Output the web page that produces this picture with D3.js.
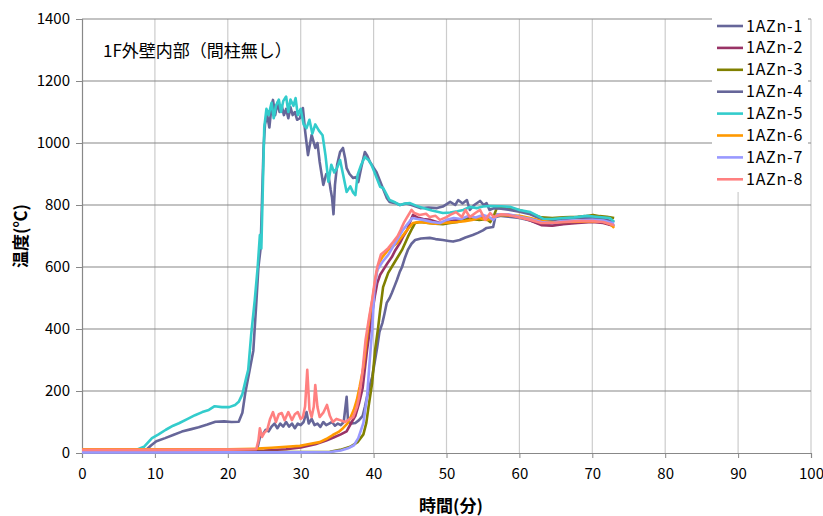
<!DOCTYPE html>
<html>
<head>
<meta charset="utf-8">
<script src="https://cdn.jsdelivr.net/npm/d3@7"></script>
<style>
body { margin: 0; background: #fff; }
text { font-family: "Noto Sans CJK JP", "DejaVu Sans", sans-serif; }
</style>
</head>
<body>
<div id="chart"></div>
<script>
"use strict"
var width = 823,
	height = 516;

// tick values
var xTicks = [0,10,20,30,40,50,60,70,80,90,100];
var yTicks = [0,200,400,600,800,1000,1200,1400];

var seriesNames = ["1AZn-1","1AZn-2","1AZn-3","1AZn-4","1AZn-5","1AZn-6","1AZn-7","1AZn-8"];
var seriesColors = ["#666699","#993366","#808000","#666699","#33cccc","#ff9900","#9999ff","#ff8080"];

// [time (min), temperature (C)]
var s1 = [[0,8],[10,8],[20,9],[24,10],[24.4,50],[24.8,60],[25.2,75],[25.6,70],[26,85],[26.4,95],[26.8,80],[27.2,95],[27.6,85],[28,100],[28.4,85],[28.8,95],[29.2,80],[29.6,95],[30,90],[30.4,100],[30.8,132],[31.1,95],[31.5,110],[31.9,90],[32.3,95],[32.7,84],[33.1,100],[33.5,90],[33.9,95],[34.3,100],[34.7,88],[35.1,95],[35.5,90],[35.9,100],[36.3,181],[36.5,100],[37,95],[37.5,97],[38,106],[38.5,120],[38.8,148],[39.1,181],[39.5,220],[39.8,245],[40.2,300],[40.5,342],[40.8,390],[41.2,419],[41.5,450],[41.8,484],[42.2,500],[42.5,516],[42.9,540],[43.2,558],[43.6,585],[43.9,600],[44.3,630],[44.7,655],[45.2,675],[45.7,687],[46.5,692],[47.7,694],[48.5,690],[49.5,687],[50.3,684],[50.9,682],[51.8,687],[52.6,695],[53.6,703],[54.3,710],[55,718],[55.5,726],[56.4,729],[56.7,761],[57.5,765],[58.5,762],[60,758],[61.5,750],[63,738],[64.5,735],[66,740],[68,745],[70,748],[71.5,745],[73,732]];
var s2 = [[0,6],[10,6],[20,6],[25,8],[28,12],[30,18],[32,28],[33.5,40],[34.5,50],[35.5,60],[36.3,70],[37,100],[37.5,120],[38,160],[38.5,210],[39.1,332],[39.5,400],[39.8,452],[40.2,510],[40.5,548],[40.9,575],[41.3,590],[41.9,612],[42.5,632],[43,655],[43.6,677],[44.1,700],[44.6,719],[45,745],[45.4,768],[46,760],[46.8,755],[47.8,752],[49.1,742],[50,745],[51,750],[52,752],[53,760],[54,755],[55,762],[56,750],[57,770],[58,768],[60,762],[61.5,750],[63,735],[64.5,733],[66,738],[68,742],[70,745],[71.5,742],[73,732]];
var s3 = [[0,4],[10,3],[20,3],[30,3],[34,4],[35.4,10],[36.8,20],[37.8,35],[38.6,60],[39,97],[39.3,148],[39.8,226],[40.2,332],[40.6,400],[40.9,461],[41.3,535],[42,581],[42.9,616],[43.9,655],[44.7,697],[45.3,725],[45.7,742],[46.4,745],[47.5,742],[48.5,740],[49.5,738],[50.5,742],[51.5,745],[52.5,752],[53.5,755],[54.5,752],[55.5,755],[56,745],[56.4,760],[56.9,790],[57.5,792],[58.5,788],[60,784],[61.5,772],[63,760],[64.5,758],[66,760],[68,762],[69,764],[70.1,768],[71,764],[72,762],[73,758]];
var s4 = [[0,7],[5,7],[8.5,8],[8.9,12],[9.5,25],[10.2,38],[11.4,48],[12.5,58],[13.7,69],[15,77],[16,83],[17.2,92],[18.3,101],[19.5,102],[20.5,100],[21.5,101],[22,130],[22.4,194],[23,268],[23.5,330],[23.9,480],[24.2,600],[24.5,660],[24.7,820],[24.9,980],[25.1,1060],[25.4,1090],[25.7,1050],[26,1120],[26.2,1139],[26.5,1090],[26.8,1130],[27.1,1100],[27.4,1120],[27.7,1090],[28,1110],[28.3,1080],[28.6,1115],[28.9,1090],[29.2,1100],[29.5,1075],[29.9,1080],[30.3,1113],[30.6,1040],[31,961],[31.5,1026],[32,984],[32.3,1000],[32.6,939],[33.1,865],[33.5,900],[33.8,897],[34.1,850],[34.3,823],[34.5,770],[34.7,865],[35,930],[35.4,971],[35.8,984],[36.1,950],[36.3,919],[36.7,900],[37.2,887],[37.6,890],[37.9,874],[38.3,920],[38.8,971],[39.1,960],[39.5,939],[40,920],[40.4,906],[41,870],[41.8,823],[42.2,810],[43,806],[43.6,800],[44.5,805],[45.2,800],[46.4,790],[47.5,792],[48.7,790],[49.5,795],[50.5,810],[51.2,800],[51.6,816],[52.2,805],[52.8,816],[53.2,784],[53.8,800],[54.6,813],[55.1,800],[55.5,806],[55.9,784],[56.5,790],[57.5,788],[58.5,785],[60,778],[61.5,770],[63,755],[64.5,752],[66,755],[68,758],[70,758],[71.5,755],[73,745]];
var s5 = [[0,10],[5,10],[7.5,11],[8.5,20],[9.6,48],[10.5,60],[11.5,75],[12.5,88],[13.3,96],[14.5,110],[15.5,122],[16.5,132],[17.4,139],[18.2,151],[19.2,148],[20.2,148],[21,155],[21.5,165],[22,190],[22.5,240],[22.8,268],[23.2,380],[23.7,494],[24.1,600],[24.4,703],[24.6,660],[24.8,850],[25,1050],[25.3,1110],[25.6,1090],[26,1130],[26.3,1080],[26.6,1120],[27,1140],[27.3,1100],[27.6,1135],[28,1150],[28.3,1100],[28.6,1140],[29,1120],[29.3,1145],[29.6,1090],[30,1110],[30.4,1060],[30.8,1048],[31.2,1075],[31.6,1030],[32,1060],[32.5,1040],[33,1025],[33.4,960],[33.8,875],[34.2,930],[34.6,905],[35,920],[35.4,945],[35.8,900],[36.3,842],[36.8,860],[37.2,840],[37.5,832],[37.8,897],[38.3,930],[38.8,955],[39.3,945],[39.7,930],[40,913],[40.9,859],[41.3,855],[42.2,816],[43,808],[43.6,800],[44.3,805],[45,806],[45.8,798],[46.8,790],[48,782],[49.5,774],[50.5,776],[51.5,780],[52.3,784],[53.2,794],[54.2,790],[55,795],[56,797],[57.5,796],[58.7,794],[60,784],[61.5,777],[62.5,765],[63.3,755],[64.5,755],[66,758],[67.5,760],[69.3,765],[70.5,762],[72.4,758],[73,745]];
var s6 = [[0,12],[10,12],[20,12],[24,14],[26,17],[28,20],[29.9,23],[31,28],[32.6,35],[33.5,45],[34.4,58],[35.2,68],[35.8,80],[36.4,95],[36.8,113],[37.3,140],[37.7,171],[38.1,215],[38.6,277],[39.2,397],[39.6,460],[39.9,503],[40.4,581],[40.8,615],[41.2,632],[42,655],[42.6,666],[43.2,677],[43.8,695],[44.3,710],[44.9,728],[45.4,742],[46.3,745],[47.5,742],[48.5,740],[49.5,742],[50.5,744],[51.5,745],[52.5,748],[53.5,752],[54.5,758],[55.5,752],[56.2,755],[56.9,768],[58,767],[60,765],[61.5,758],[63,748],[64.5,744],[66,745],[68,746],[70,748],[71.5,746],[72.5,738],[73,726]];
var s7 = [[0,2],[10,2],[20,2],[30,2],[34,3],[35.5,8],[36.5,15],[37.3,25],[37.9,48],[38.6,97],[39.1,181],[39.4,277],[39.8,397],[40.1,526],[40.5,590],[41.2,616],[42,639],[43.2,687],[44,719],[44.7,740],[45.3,758],[46,755],[46.8,752],[48,745],[49.1,742],[50,752],[51,758],[52,755],[53,765],[54,760],[55,768],[55.8,762],[56.4,752],[57,770],[58.5,770],[60,762],[61.5,755],[63,745],[64.5,742],[66,748],[68,750],[70,752],[71.5,750],[73,740]];
var s8 = [[0,10],[10,10],[20,11],[23.9,12],[24.2,40],[24.4,80],[24.7,52],[25,65],[25.4,74],[25.8,110],[26.2,132],[26.6,100],[27,125],[27.4,129],[27.8,106],[28.3,132],[28.8,106],[29.2,125],[29.6,132],[30,110],[30.3,116],[30.6,150],[30.9,268],[31.2,140],[31.5,116],[31.8,150],[32,219],[32.3,148],[32.6,116],[33.1,130],[33.6,155],[34,120],[34.4,100],[34.9,110],[35.4,106],[36.1,100],[36.6,108],[37.2,116],[37.7,148],[38,180],[38.4,245],[38.9,365],[39.4,440],[39.8,494],[40.2,560],[40.5,600],[41,640],[41.5,650],[42,661],[42.7,681],[43.3,700],[43.7,719],[44.2,745],[44.6,761],[45.2,784],[45.6,774],[46.3,768],[47.2,772],[47.7,761],[48.5,765],[49.1,752],[50,761],[50.5,768],[51.3,777],[52.1,761],[52.6,784],[53.2,761],[54,775],[54.6,784],[55.3,752],[56,774],[56.5,761],[57.5,770],[58.5,768],[60,760],[61.5,752],[63,742],[64.5,742],[66,745],[68,748],[70,748],[71.5,745],[73,735]];

var seriesData = [s1,s2,s3,s4,s5,s6,s7,s8];

var plot = {left:82, right:811, top:19, bottom:453};

var svg = d3.select("#chart").append("svg")
	.attr("width",width)
	.attr("height",height)
	.style("background","#fff");

var xscale = d3.scaleLinear().domain([0,100]).range([plot.left,plot.right]);
var yscale = d3.scaleLinear().domain([0,1400]).range([plot.bottom,plot.top]);

// gridlines
svg.append("g").selectAll("line").data(xTicks.slice(1)).enter().append("line")
	.attr("x1",d=>xscale(d)).attr("x2",d=>xscale(d))
	.attr("y1",plot.top).attr("y2",plot.bottom)
	.style("stroke","#cccccc").style("stroke-width",1.2);
svg.append("g").selectAll("line").data(yTicks.slice(1)).enter().append("line")
	.attr("x1",plot.left).attr("x2",plot.right)
	.attr("y1",d=>yscale(d)).attr("y2",d=>yscale(d))
	.style("stroke","#888").style("stroke-width",1.2);

// axes
var xAxis = svg.append("g")
	.attr("transform","translate(0,"+plot.bottom+")")
	.call(d3.axisBottom(xscale).tickValues(xTicks).tickFormat(d3.format("d")).tickSize(5).tickPadding(10));
var yAxis = svg.append("g")
	.attr("transform","translate("+plot.left+",0)")
	.call(d3.axisLeft(yscale).tickValues(yTicks).tickFormat(d3.format("d")).tickSize(6).tickPadding(6));
[xAxis,yAxis].forEach(function(a){
	a.select(".domain").style("stroke","#888").style("stroke-width",1.2);
	a.selectAll(".tick line").style("stroke","#888");
	a.selectAll("text").style("font-size","15px").style("fill","#000")
		.style("font-family","'Noto Sans CJK JP', sans-serif");
});

// series lines
var line = d3.line().x(d=>xscale(d[0])).y(d=>yscale(d[1]));
seriesData.forEach(function(s,i){
	svg.append("path")
		.datum(s)
		.attr("d",line)
		.style("fill","none")
		.style("stroke",seriesColors[i])
		.style("stroke-width",2.6)
		.style("stroke-linejoin","round");
});

// annotation
svg.append("text")
	.attr("x",103).attr("y",57)
	.style("font-size","17px")
	.text("1F外壁内部（間柱無し）");

// axis titles
svg.append("text")
	.attr("x",451).attr("y",512)
	.attr("text-anchor","middle")
	.style("font-size","17px").style("font-weight","bold")
	.text("時間(分)");
svg.append("text")
	.attr("transform","translate(27,236) rotate(-90)")
	.attr("text-anchor","middle")
	.style("font-size","17px").style("font-weight","bold")
	.text("温度(℃)");

// legend
var legend = svg.append("g");
legend.append("rect")
	.attr("x",712).attr("y",8).attr("width",96).attr("height",184)
	.style("fill","#fff");
seriesNames.forEach(function(n,i){
	var y = 26 + i*21.9;
	legend.append("line")
		.attr("x1",717).attr("x2",743).attr("y1",y).attr("y2",y)
		.style("stroke",seriesColors[i]).style("stroke-width",2.6);
	legend.append("text")
		.attr("x",746).attr("y",y+5.5)
		.style("font-size","16px")
		.style("letter-spacing","0.8px")
		.text(n);
});
</script>
</body>
</html>
